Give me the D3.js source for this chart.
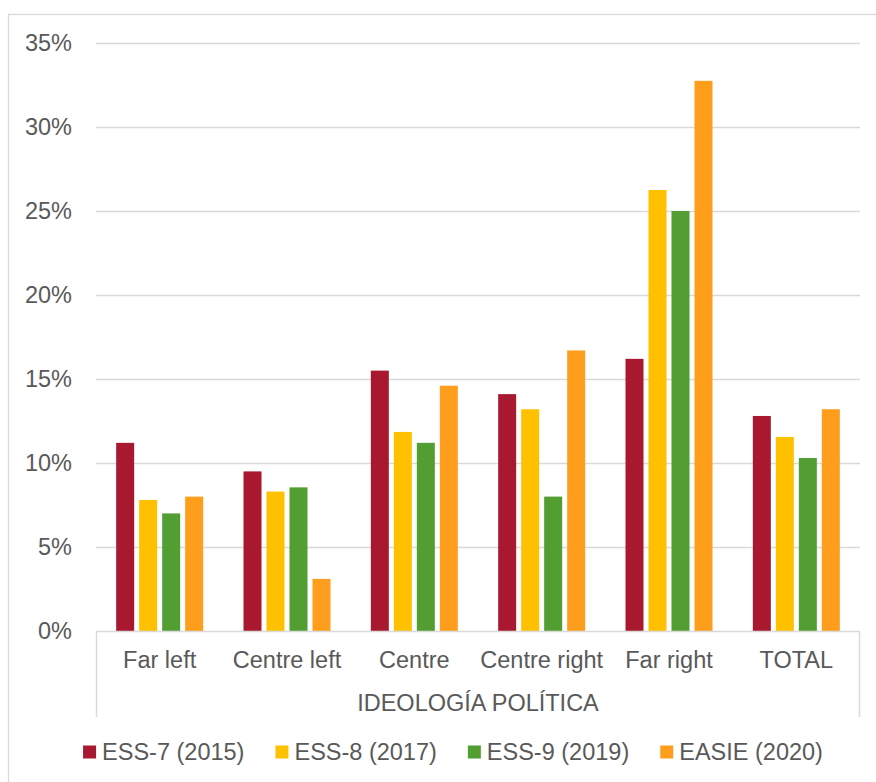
<!DOCTYPE html>
<html>
<head>
<meta charset="utf-8">
<script src="https://cdn.jsdelivr.net/npm/d3@7"></script>
<style>
  html, body { margin: 0; padding: 0; background: #ffffff; }
  svg { display: block; font-family: "Liberation Sans", Arial, sans-serif; }
</style>
</head>
<body>
<svg id="chart" width="876" height="782"></svg>
<script>
const categories = ["Far left", "Centre left", "Centre", "Centre right", "Far right", "TOTAL"];
const seriesNames = ["ESS-7 (2015)", "ESS-8 (2017)", "ESS-9 (2019)", "EASIE (2020)"];
const ess7  = [11.2, 9.5, 15.5, 14.1, 16.2, 12.8];
const ess8  = [7.8, 8.3, 11.85, 13.2, 26.25, 11.55];
const ess9  = [7.0, 8.55, 11.2, 8.0, 25.0, 10.3];
const easie = [8.0, 3.1, 14.6, 16.7, 32.75, 13.2];
const yTicks = [0, 5, 10, 15, 20, 25, 30, 35];
const axisTitle = "IDEOLOGÍA POLÍTICA";
const colors = ["#A8192F", "#FFC000", "#529E32", "#FF9E1C"];

(function () {
const seriesValues = [ess7, ess8, ess9, easie];
const data = categories.map((c, i) => ({
  cat: c,
  vals: seriesNames.map((s, j) => ({ series: s, value: seriesValues[j][i], color: colors[j] }))
}));

const svg = d3.select("#chart");
const textColor = "#595959";
const lineColor = "#d9d9d9";
const fontSize = 23.5;

const mLeft = 96, mRight = 860, mTop = 43, mBottom = 631;

// outer chart border
svg.append("rect")
  .attr("x", 8.5).attr("y", 14.5)
  .attr("width", 1000).attr("height", 1000)
  .attr("fill", "none").attr("stroke", lineColor).attr("stroke-width", 1.3);

const y = d3.scaleLinear().domain([0, 35]).range([mBottom, mTop]);
const x0 = d3.scaleBand().domain(categories).range([mLeft, mRight]).padding(0);
const catW = x0.bandwidth();
const innerPad = 5 / 23;
const outerPad = (catW / 23 - 4 + innerPad) / 2;
const x1 = d3.scaleBand().domain(seriesNames).range([0, catW])
  .paddingInner(innerPad).paddingOuter(outerPad);

// gridlines
svg.append("g").selectAll("line")
  .data(yTicks.filter(t => t > 0))
  .join("line")
  .attr("x1", mLeft).attr("x2", mRight)
  .attr("y1", d => Math.round(y(d)) + 0.5).attr("y2", d => Math.round(y(d)) + 0.5)
  .attr("stroke", lineColor).attr("stroke-width", 1.4);

// y labels
svg.append("g").selectAll("text")
  .data(yTicks)
  .join("text")
  .attr("x", 72)
  .attr("y", d => y(d))
  .attr("dy", "0.36em")
  .attr("text-anchor", "end")
  .attr("font-size", fontSize)
  .attr("fill", textColor)
  .text(d => d + "%");

// bars
const groups = svg.append("g").selectAll("g")
  .data(data)
  .join("g")
  .attr("transform", d => `translate(${x0(d.cat)},0)`);

groups.selectAll("rect")
  .data(d => d.vals)
  .join("rect")
  .attr("x", d => x1(d.series))
  .attr("width", x1.bandwidth())
  .attr("y", d => y(d.value))
  .attr("height", d => y(0) - y(d.value))
  .attr("fill", d => d.color);

// category axis frame
const axisBottom = 717;
svg.append("path")
  .attr("d", `M${mLeft + 0.5},${axisBottom} V${mBottom + 0.5} H${mRight - 0.5} V${axisBottom}`)
  .attr("fill", "none").attr("stroke", lineColor).attr("stroke-width", 1.4);

// category labels
svg.append("g").selectAll("text")
  .data(categories)
  .join("text")
  .attr("x", d => x0(d) + catW / 2)
  .attr("y", 660)
  .attr("dy", "0.36em")
  .attr("text-anchor", "middle")
  .attr("font-size", fontSize)
  .attr("fill", textColor)
  .text(d => d);

// axis group title
svg.append("text")
  .attr("x", (mLeft + mRight) / 2)
  .attr("y", 703)
  .attr("dy", "0.36em")
  .attr("text-anchor", "middle")
  .attr("font-size", fontSize)
  .attr("fill", textColor)
  .text(axisTitle);

// legend
const legend = svg.append("g");
const sq = 13, gapText = 6, gapItem = 31;
let cx = 0;
seriesNames.forEach((s, i) => {
  const g = legend.append("g");
  g.append("rect").attr("x", 0).attr("y", -6.5).attr("width", sq).attr("height", sq).attr("fill", colors[i]);
  const t = g.append("text")
    .attr("x", sq + gapText).attr("y", 0).attr("dy", "0.36em")
    .attr("font-size", fontSize).attr("fill", textColor).text(s);
  const w = sq + gapText + t.node().getComputedTextLength();
  g.attr("transform", `translate(${cx},0)`);
  cx += w + gapItem;
});
const totalW = cx - gapItem;
legend.attr("transform", `translate(${453 - totalW / 2},752)`);
})();
</script>
</body>
</html>
